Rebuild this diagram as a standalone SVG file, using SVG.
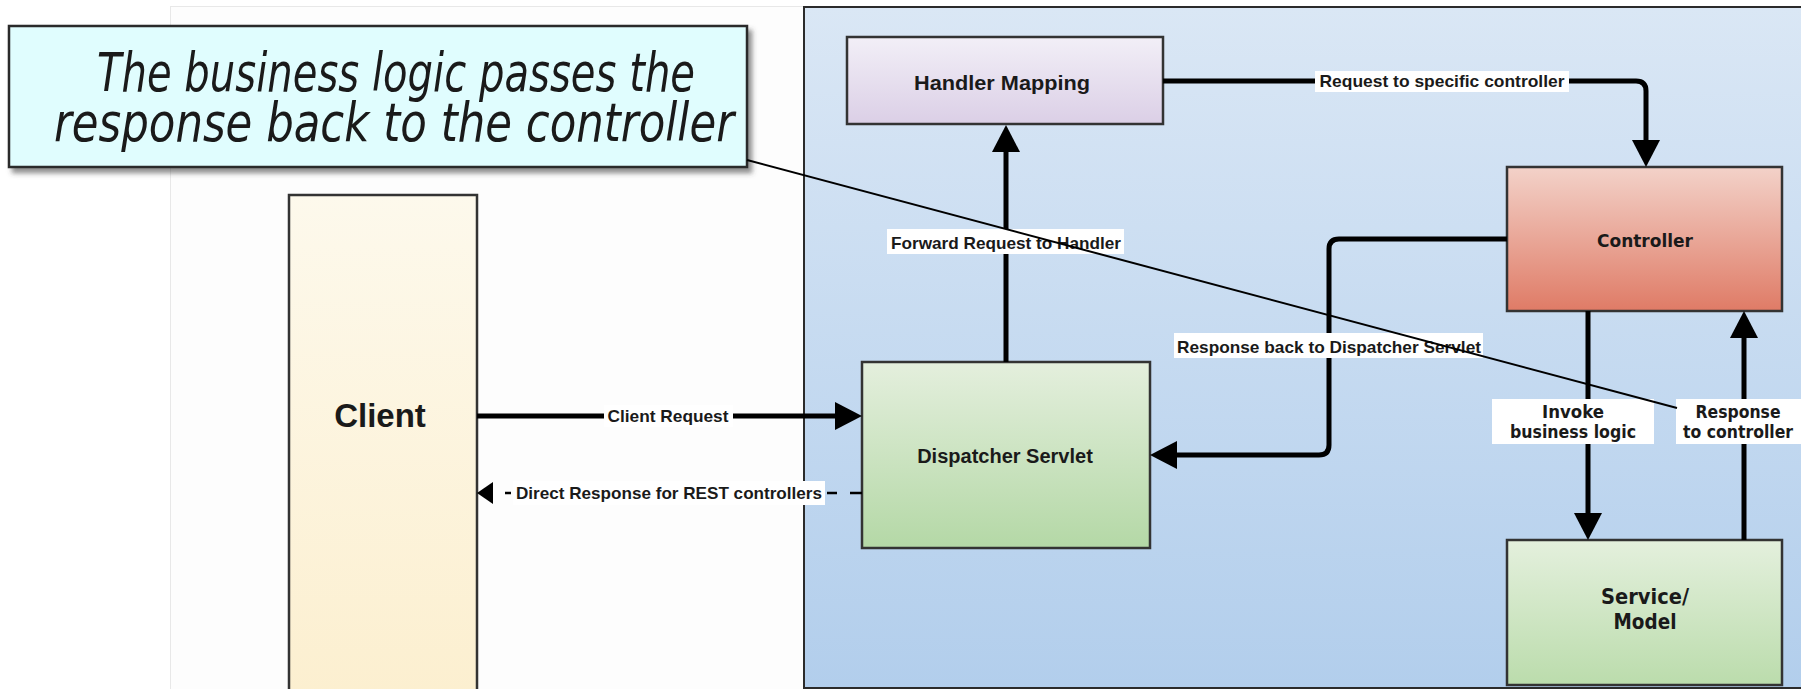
<svg xmlns="http://www.w3.org/2000/svg" width="1801" height="689" viewBox="0 0 1801 689">
<defs>
<linearGradient id="gPanel" x1="0" y1="0" x2="0" y2="1"><stop offset="0" stop-color="#dae7f5"/><stop offset="1" stop-color="#b2ceec"/></linearGradient>
<linearGradient id="gClient" x1="0" y1="0" x2="0" y2="1"><stop offset="0" stop-color="#fdf9ec"/><stop offset="1" stop-color="#fcefcf"/></linearGradient>
<linearGradient id="gHandler" x1="0" y1="0" x2="0" y2="1"><stop offset="0" stop-color="#f2eff7"/><stop offset="1" stop-color="#dbcfe6"/></linearGradient>
<linearGradient id="gCtrl" x1="0" y1="0" x2="0" y2="1"><stop offset="0" stop-color="#f3d2c9"/><stop offset="1" stop-color="#df7b66"/></linearGradient>
<linearGradient id="gGreen" x1="0" y1="0" x2="0" y2="1"><stop offset="0" stop-color="#e4efdd"/><stop offset="1" stop-color="#b4d8a6"/></linearGradient>
<linearGradient id="gService" x1="0" y1="0" x2="0" y2="1"><stop offset="0" stop-color="#e4f0dd"/><stop offset="1" stop-color="#bbdcac"/></linearGradient>
<filter id="shadow" x="-5%" y="-10%" width="115%" height="130%"><feDropShadow dx="4" dy="5" stdDeviation="2.5" flood-color="#444" flood-opacity="0.6"/></filter>
<marker id="arrow" markerUnits="userSpaceOnUse" markerWidth="27" markerHeight="28" viewBox="0 0 27 28" refX="0" refY="14" orient="auto"><path d="M0,0 L27,14 L0,28 z" fill="#000"/></marker>
<marker id="arrowSmall" markerUnits="userSpaceOnUse" markerWidth="16" markerHeight="22" viewBox="0 0 16 22" refX="0" refY="11" orient="auto"><path d="M0,0 L16,11 L0,22 z" fill="#000"/></marker>
</defs>
<style>
.box{stroke:#333;stroke-width:2.5}
.arial{font-family:"Liberation Sans",Arial,sans-serif;font-weight:bold;fill:#1a1a1a}
.tahoma{font-family:"DejaVu Sans","Noto Sans",sans-serif;font-weight:bold;fill:#1a1a1a}
.lbl{font-family:"Liberation Sans",Arial,sans-serif;font-weight:bold;font-size:17px;fill:#1a1a1a}
.lblbg{fill:#fff}
.conn{fill:none;stroke:#000;stroke-width:5}
.dash{fill:none;stroke:#000;stroke-width:2.5;stroke-dasharray:12 13 10 316 6 12}
.callout{font-family:"DejaVu Sans Condensed","DejaVu Sans",sans-serif;font-style:italic;font-size:54px;fill:#1a1a1a}
</style>
<rect width="1801" height="689" fill="#fff"/>
<rect x="170.5" y="6.5" width="700" height="700" fill="#fdfdfd" stroke="#e8e8e8" stroke-width="1"/>
<g id="panel"><rect x="804" y="7" width="1020" height="681" fill="url(#gPanel)" stroke="#2b2b2b" stroke-width="2"/></g>
<g id="client"><rect class="box" x="289" y="195" width="188" height="510" fill="url(#gClient)"/><text class="arial" x="380" y="427" font-size="33" text-anchor="middle">Client</text></g>
<g id="handler-mapping"><rect class="box" x="847" y="37" width="316" height="87" fill="url(#gHandler)"/><text class="arial" x="1002" y="90" font-size="20" text-anchor="middle" textLength="176" lengthAdjust="spacingAndGlyphs">Handler Mapping</text></g>
<g id="controller"><rect class="box" x="1507" y="167" width="275" height="144" fill="url(#gCtrl)"/><text class="tahoma" x="1645" y="247" font-size="18" text-anchor="middle" textLength="96" lengthAdjust="spacingAndGlyphs">Controller</text></g>
<g id="dispatcher-servlet"><rect class="box" x="862" y="362" width="288" height="186" fill="url(#gGreen)"/><text class="arial" x="1005" y="463" font-size="20" text-anchor="middle">Dispatcher Servlet</text></g>
<g id="service-model"><rect class="box" x="1507" y="540" width="275" height="145" fill="url(#gService)"/><text class="tahoma" x="1645" y="604" font-size="21" text-anchor="middle" textLength="88" lengthAdjust="spacingAndGlyphs">Service/</text><text class="tahoma" x="1645" y="629" font-size="21" text-anchor="middle" textLength="63" lengthAdjust="spacingAndGlyphs">Model</text></g>
<g id="connectors">
<path class="conn" d="M1006,362 V152" marker-end="url(#arrow)"/>
<path class="conn" d="M1163,81 H1636 Q1646,81 1646,91 V140" marker-end="url(#arrow)"/>
<path class="conn" d="M1507,239 H1339 Q1329,239 1329,249 V445 Q1329,455 1319,455 H1177" marker-end="url(#arrow)"/>
<path class="conn" d="M477,416 H835" marker-end="url(#arrow)"/>
<path class="dash" d="M862,493 H493" marker-end="url(#arrowSmall)"/>
<path class="conn" d="M1588,311 V513" marker-end="url(#arrow)"/>
<path class="conn" d="M1744,540 V338" marker-end="url(#arrow)"/>
<rect class="lblbg" x="887" y="229" width="237" height="25"/><text class="lbl" x="1006" y="249" text-anchor="middle" textLength="230" lengthAdjust="spacingAndGlyphs">Forward Request to Handler</text>
<rect class="lblbg" x="1315" y="71" width="254" height="21"/><text class="lbl" x="1442" y="87" text-anchor="middle" textLength="245" lengthAdjust="spacingAndGlyphs">Request to specific controller</text>
<rect class="lblbg" x="1174" y="333" width="309" height="25"/><text class="lbl" x="1329" y="353" text-anchor="middle" textLength="304" lengthAdjust="spacingAndGlyphs">Response back to Dispatcher Servlet</text>
<rect class="lblbg" x="604" y="405" width="129" height="22"/><text class="lbl" x="668" y="422" text-anchor="middle" textLength="121" lengthAdjust="spacingAndGlyphs">Client Request</text>
<rect class="lblbg" x="513" y="481" width="312" height="24"/><text class="lbl" x="669" y="499" text-anchor="middle" textLength="306" lengthAdjust="spacingAndGlyphs">Direct Response for REST controllers</text>
<rect class="lblbg" x="1492" y="399" width="162" height="45"/><text class="tahoma" font-size="17" x="1573" y="418" text-anchor="middle" textLength="62" lengthAdjust="spacingAndGlyphs">Invoke</text><text class="tahoma" font-size="17" x="1573" y="438" text-anchor="middle" textLength="126" lengthAdjust="spacingAndGlyphs">business logic</text>
<rect class="lblbg" x="1676" y="399" width="126" height="45"/><text class="tahoma" font-size="17" x="1738" y="418" text-anchor="middle" textLength="85" lengthAdjust="spacingAndGlyphs">Response</text><text class="tahoma" font-size="17" x="1738" y="438" text-anchor="middle" textLength="110" lengthAdjust="spacingAndGlyphs">to controller</text>
</g>
<g id="callout">
<rect x="9" y="26" width="738" height="141" fill="#e0fdfe" stroke="#2a2a2a" stroke-width="2.5" filter="url(#shadow)"/>
<text class="callout" x="396" y="91" text-anchor="middle" textLength="598" lengthAdjust="spacingAndGlyphs">The business logic passes the</text>
<text class="callout" x="394" y="141" text-anchor="middle" textLength="680" lengthAdjust="spacingAndGlyphs">response back to the controller</text>
<path d="M747,160 L1677,408" stroke="#000" stroke-width="2" fill="none"/>
</g>
</svg>
